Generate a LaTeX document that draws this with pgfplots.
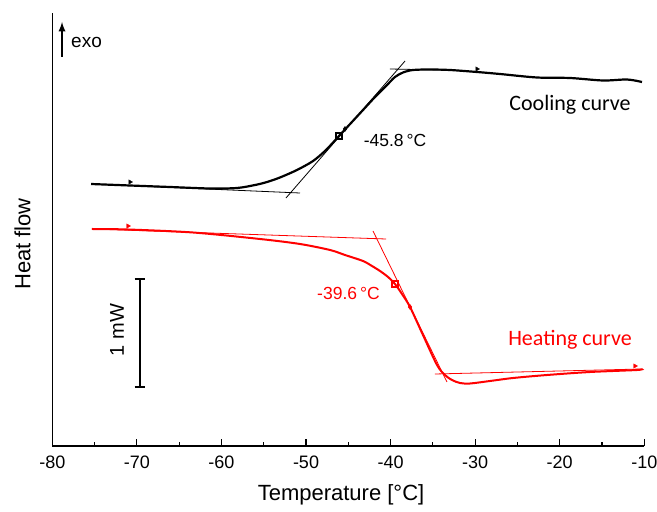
\documentclass[border=0pt]{standalone}
\usepackage{pgfplots}
\pgfplotsset{compat=1.18}
\usepackage{fontspec}
\setmainfont{Liberation Sans}
\newfontfamily\carlito{Carlito}
\begin{document}
\begin{tikzpicture}
\begin{axis}[
  at={(0,0)}, anchor=south west,
  scale only axis, width=592pt, height=433pt,
  xmin=-80, xmax=-10, ymin=-446, ymax=-13,
  axis lines=left, axis line style={-, line width=1.6pt},
  xtick={-80,-70,...,-10}, minor x tick num=1,
  ytick=\empty,
  tick align=inside,
  major tick length=7.5pt, minor tick length=4.5pt,
  tick style={line width=1.2pt, black},
  /pgf/number format/assume math mode=true,
  xticklabel style={font=\fontsize{18}{20}\selectfont, yshift=-6pt},
  clip=false,
]
% cooling curve
\addplot[black, line width=2.2pt, smooth] coordinates {
(-75.42,-184) (-70.81,-185.5) (-66.08,-187) (-61.35,-188.5) (-58.16,-188) (-56.03,-185) (-54.61,-182) (-53.08,-177.5) (-51.07,-170) (-49.17,-161) (-47.64,-150) (-46.10,-136) (-44.68,-123) (-43.26,-110) (-41.84,-97) (-40.42,-85) (-39.48,-77) (-38.53,-72.5) (-37.35,-70) (-35.34,-69.5) (-32.97,-70) (-29.78,-72) (-27.06,-74) (-22.69,-77.5) (-18.78,-78) (-14.88,-80.5) (-12.04,-79.5) (-10.27,-82)};
% cooling tangents
\addplot[black, line width=0.8pt] coordinates {(-75.42,-184) (-50.71,-193)};
\addplot[black, line width=0.8pt] coordinates {(-52.37,-198) (-38.29,-61)};
\addplot[black, line width=0.8pt] coordinates {(-40.07,-69) (-34.16,-70)};
% cooling markers
\addplot[only marks, black, mark=triangle*, mark size=2.5pt, mark options={rotate=-90}] coordinates {(-70.81,-182) (-29.78,-69)};
\addplot[only marks, black, mark=square, mark size=3pt, mark options={line width=1.2pt}] coordinates {(-46.10,-136)};
\addplot[only marks, black, mark=diamond*, mark size=2.5pt] coordinates {(-45.39,-129)};
% heating curve
\addplot[red, line width=2pt, smooth] coordinates {
(-75.31,-229) (-71.05,-229.5) (-63.36,-232.5) (-55.44,-239) (-50.71,-244) (-47.16,-250) (-45.39,-255) (-43.26,-261) (-42.20,-266) (-41.25,-271) (-40.30,-277) (-39.48,-284) (-38.65,-294) (-37.70,-307) (-36.17,-335) (-34.51,-365) (-33.57,-375) (-32.74,-380) (-31.79,-383) (-30.61,-383.5) (-28.24,-381) (-25.52,-378) (-21.50,-375) (-16.42,-372) (-10.86,-370) (-10.33,-369)};
% heating tangents
\addplot[red, line width=0.8pt] coordinates {(-75.31,-229) (-40.54,-239)};
\addplot[red, line width=0.8pt] coordinates {(-42.08,-231) (-33.33,-382)};
\addplot[red, line width=0.8pt] coordinates {(-34.75,-374) (-10.33,-369)};
% heating markers
\addplot[only marks, red, mark=triangle*, mark size=2.5pt, mark options={rotate=-90}] coordinates {(-71.05,-226) (-11.10,-366)};
\addplot[only marks, red, mark=square, mark size=3pt, mark options={line width=1.2pt}] coordinates {(-39.48,-284)};
\addplot[only marks, red, mark=diamond*, mark size=2.5pt] coordinates {(-37.70,-307)};
% annotations
\node[anchor=center, font=\fontsize{17.5}{20}\selectfont] at (axis cs:-39.48,-140) {-45.8\,°C};
\node[anchor=center, font=\fontsize{17.5}{20}\selectfont, text=red] at (axis cs:-44.98,-293) {-39.6\,°C};
\node[anchor=center, font=\carlito\fontsize{22}{24}\selectfont] at (axis cs:-18.78,-105) {Cooling curve};
\node[anchor=center, font=\carlito\fontsize{22}{24}\selectfont, text=red] at (axis cs:-18.78,-340) {Heating curve};
% scale bar
\draw[black, line width=1.3pt] (axis cs:-69.63,-279) -- (axis cs:-69.63,-387);
\draw[black, line width=1.3pt] (axis cs:-70.28,-279) -- (axis cs:-68.98,-279);
\draw[black, line width=1.3pt] (axis cs:-70.28,-387) -- (axis cs:-68.98,-387);
\node[rotate=90, anchor=center, font=\fontsize{20}{22}\selectfont] at (axis cs:-72.35,-330) {1 mW};
% exo arrow
\draw[-latex, line width=2.2pt] (axis cs:-78.85,-57) -- (axis cs:-78.85,-22);
\node[anchor=west, inner sep=0pt, font=\fontsize{19}{21}\selectfont] at (axis cs:-77.79,-42) {exo};
% axis labels
\node[rotate=90, anchor=center, font=\fontsize{22}{24}\selectfont] at (axis cs:-83.52,-244) {Heat flow};
\node[anchor=center, font=\fontsize{22}{24}\selectfont] at (axis cs:-45.86,-495) {Temperature [°C]};
\end{axis}
\pgfresetboundingbox
\useasboundingbox (-52.3pt,-66pt) rectangle (604.7pt,446pt);
\end{tikzpicture}
\end{document}
